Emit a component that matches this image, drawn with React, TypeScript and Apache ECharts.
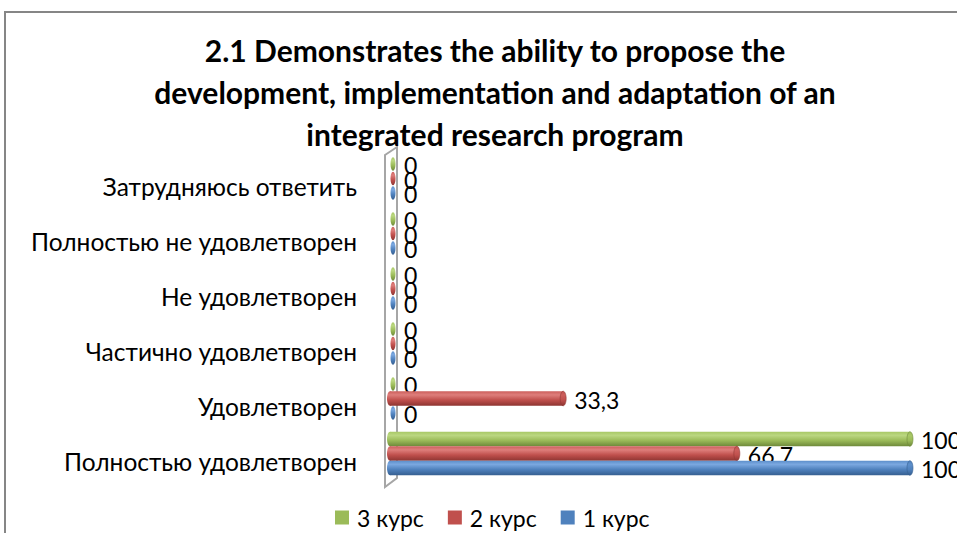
import React, { useEffect, useRef } from "react";
import * as echarts from "echarts";

const categories = [
  "Полностью удовлетворен",
  "Удовлетворен",
  "Частично удовлетворен",
  "Не удовлетворен",
  "Полностью не удовлетворен",
  "Затрудняюсь ответить",
];
const kurs1 = [100, 0, 0, 0, 0, 0];
const kurs2 = [66.7, 33.3, 0, 0, 0, 0];
const kurs3 = [100, 0, 0, 0, 0, 0];
const seriesNames = ["3 курс", "2 курс", "1 курс"];
const titleText =
  "2.1 Demonstrates the ability to propose the\ndevelopment, implementation and adaptation of an\nintegrated research program";

const FONT = "Lato, 'Noto Sans', sans-serif";

type Pal = { base: string; light: string; hi: string; dark: string };
const palettes: Pal[] = [
  { base: "#9BBB59", light: "#A8C866", hi: "#BBD781", dark: "#6E8A3A" },
  { base: "#C0504D", light: "#CC5F5C", hi: "#DE7E7B", dark: "#8E3532" },
  { base: "#4F81BD", light: "#5D8FCB", hi: "#7BA8E0", dark: "#365F91" },
];
const offsets = [-22, -7.5, 7];

function grad(p: Pal) {
  return new echarts.graphic.LinearGradient(0, 0, 0, 1, [
    { offset: 0, color: p.light },
    { offset: 0.25, color: p.hi },
    { offset: 0.6, color: p.base },
    { offset: 1, color: p.dark },
  ]);
}

function makeSeries(name: string, values: number[], idx: number) {
  const p = palettes[idx];
  return {
    name,
    type: "custom",
    z: 3,
    itemStyle: { color: p.base },
    data: values.map((v, i) => [v, i]),
    encode: { x: 0, y: 1 },
    renderItem: (params: any, api: any) => {
      const v = api.value(0) as number;
      const c = api.value(1) as number;
      const s = api.coord([0, c]);
      const e = api.coord([v, c]);
      const h = 14.5;
      const y = s[1] + offsets[idx];
      const x0 = s[0];
      const x1 = e[0];
      const rx = 3;
      const children: any[] = [];
      if (x1 - x0 > 0.5) {
        children.push({
          type: "ellipse",
          shape: { cx: x0, cy: y, rx, ry: h / 2 },
          style: { fill: grad(p) },
        });
        children.push({
          type: "rect",
          shape: { x: x0, y: y - h / 2, width: x1 - x0, height: h },
          style: { fill: grad(p) },
        });
        children.push({
          type: "ellipse",
          shape: { cx: x1, cy: y, rx, ry: h / 2 },
          style: { fill: grad({ ...p, hi: p.light, light: p.base }), stroke: p.dark, lineWidth: 0.6 },
        });
      } else {
        children.push({
          type: "ellipse",
          shape: { cx: x0 + 3, cy: y, rx: 2.5, ry: h / 2 - 0.5 },
          style: { fill: grad(p) },
        });
      }
      const label = String(v).replace(".", ",");
      children.push({
        type: "text",
        x: Math.max(x1, x0 + 3) + rx + 8,
        y: y + 1,
        style: {
          text: label,
          fill: "#000",
          font: `23px ${FONT}`,
          verticalAlign: "middle",
          align: "left",
        },
      });
      return { type: "group", children };
    },
  };
}

export default function App() {
  const ref = useRef<HTMLDivElement>(null);
  useEffect(() => {
    if (!ref.current) return;
    const chart = echarts.init(ref.current, undefined, { renderer: "svg" });
    const wallStroke = "#A6A6A6";
    chart.setOption({
      animation: false,
      backgroundColor: "#fff",
      title: {
        text: titleText,
        left: 490,
        top: 24,
        textAlign: "center",
        textStyle: {
          fontFamily: FONT,
          fontWeight: "bold",
          fontSize: 30,
          lineHeight: 42,
          color: "#000",
        },
      },
      legend: {
        data: seriesNames.map((n) => ({ name: n, icon: "rect" })),
        left: 330,
        top: 501,
        itemWidth: 14,
        itemHeight: 14,
        itemGap: 24,
        textStyle: { fontFamily: FONT, fontSize: 23, color: "#000", padding: [0, 0, 0, 3] },
      },
      grid: { left: 390, right: 47, top: 158.5, bottom: 44.5, containLabel: false },
      xAxis: {
        type: "value",
        min: 0,
        max: 100,
        show: false,
      },
      yAxis: {
        type: "category",
        data: categories,
        axisLine: { show: false },
        axisTick: { show: false },
        splitLine: { show: false },
        axisLabel: {
          fontFamily: FONT,
          fontSize: 24.5,
          color: "#000",
          margin: 33,
        },
      },
      graphic: [
        {
          type: "rect",
          z: 0,
          shape: { x: 5, y: 12, width: 1100, height: 700 },
          style: { fill: "none", stroke: "#868686", lineWidth: 2 },
        },
        {
          type: "polygon",
          z: 1,
          shape: {
            points: [
              [385, 155],
              [397, 147],
              [397, 478],
              [385, 487],
            ],
          },
          style: { fill: "#fff", stroke: wallStroke, lineWidth: 2 },
        },
      ],
      series: [
        makeSeries("3 курс", kurs3, 0),
        makeSeries("2 курс", kurs2, 1),
        makeSeries("1 курс", kurs1, 2),
      ],
    });
    return () => chart.dispose();
  }, []);
  return (
    <div
      ref={ref}
      style={{ position: "absolute", left: 0, top: 0, width: 957, height: 533 }}
    />
  );
}
